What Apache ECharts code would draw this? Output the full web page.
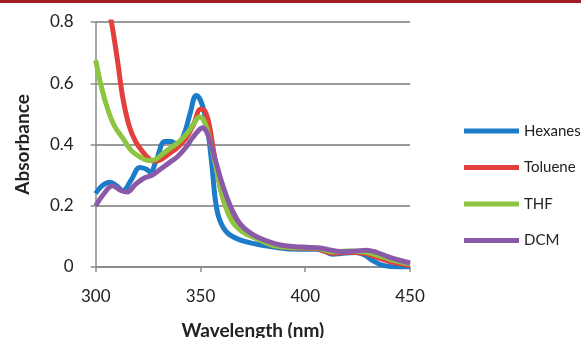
<!DOCTYPE html>
<html>
<head>
<meta charset="utf-8">
<script src="https://cdn.jsdelivr.net/npm/echarts@6/dist/echarts.min.js"></script>
<style>
html,body{margin:0;padding:0;background:#fff;}
#c{width:581px;height:338px;}
</style>
</head>
<body>
<div id="c"></div>
<script>
const seriesNames = ['Hexanes', 'Toluene', 'THF', 'DCM'];
const xTicks = [300, 350, 400, 450];
const yTicks = [0, 0.2, 0.4, 0.6, 0.8];

const hexWl  = [300,303,306.8,310,313,317,321,324,326,329,333,336,339,342,345,348,350,352,354,355.5,357.5,360,364,372,386,398,405,409,413,418,424,428,432,436,440,445,450];
const hexAbs = [0.24,0.265,0.277,0.265,0.25,0.285,0.325,0.32,0.31,0.35,0.41,0.41,0.40,0.43,0.50,0.56,0.545,0.50,0.42,0.33,0.20,0.14,0.105,0.082,0.064,0.058,0.058,0.052,0.042,0.045,0.047,0.04,0.022,0.008,0.002,0,0];

const tolWl  = [306,308,310.5,313,316,319,322,326,328,331,335,339,343,347,350,352,354,356,358,360.5,365,370,375,386,395,405,413,420,428,435,442,450];
const tolAbs = [0.85,0.78,0.67,0.55,0.46,0.41,0.38,0.35,0.345,0.35,0.37,0.39,0.42,0.47,0.515,0.51,0.47,0.39,0.31,0.23,0.155,0.12,0.10,0.068,0.062,0.06,0.045,0.048,0.045,0.03,0.015,0.005];

const thfWl  = [300,303,306,309,313,317,321,325,328,332,336,340,344,347,349.5,351.5,353.5,356,358.5,361,365,370,376,386,395,405,413,420,428,435,442,450];
const thfAbs = [0.675,0.58,0.51,0.46,0.42,0.38,0.36,0.348,0.35,0.37,0.39,0.41,0.44,0.47,0.49,0.48,0.44,0.37,0.29,0.22,0.15,0.115,0.095,0.068,0.063,0.062,0.05,0.052,0.05,0.037,0.022,0.01];

const dcmWl  = [300,304,308,312,315,319,323,327,331,335,339,343,346,349,351,353,355,357.5,360,362.5,365.5,369,373,378,388,399,407,418,424,429,434,439,445,450];
const dcmAbs = [0.20,0.24,0.265,0.25,0.245,0.27,0.29,0.30,0.32,0.34,0.36,0.39,0.42,0.445,0.455,0.44,0.40,0.34,0.28,0.23,0.18,0.14,0.115,0.095,0.072,0.065,0.062,0.05,0.052,0.055,0.048,0.035,0.022,0.013];

const colors = ['#1b7dc9', '#e2403c', '#8dc540', '#8a5aa8'];
const wls = [hexWl, tolWl, thfWl, dcmWl];
const abss = [hexAbs, tolAbs, thfAbs, dcmAbs];

const font = 'Lato, "Liberation Sans", sans-serif';
const chart = echarts.init(document.getElementById('c'), null, {renderer: 'canvas'});
chart.setOption({
  animation: false,
  backgroundColor: '#ffffff',
  color: colors,
  graphic: [{
    type: 'rect', left: 0, top: 0, z: 100,
    shape: {width: 581, height: 3},
    style: {fill: '#a31d24'}
  }],
  grid: {left: 95.7, right: 171, top: 22, bottom: 71, containLabel: false, outerBoundsMode: 'none'},
  legend: {
    orient: 'vertical',
    left: 464, top: 123, padding: 0,
    itemWidth: 55, itemHeight: 5,
    itemGap: 20.5,
    icon: 'rect',
    textStyle: {fontFamily: font, fontSize: 15, color: '#222', lineHeight: 16},
    data: seriesNames
  },
  xAxis: {
    type: 'value', min: xTicks[0], max: xTicks[xTicks.length-1], interval: 50,
    name: 'Wavelength (nm)', nameLocation: 'middle', nameGap: 54,
    nameTextStyle: {fontFamily: font, fontSize: 19, fontWeight: 'bold', color: '#222'},
    axisLine: {lineStyle: {color: '#8a8a8a', width: 1.5}},
    axisTick: {show: true, length: 5, lineStyle: {color: '#8a8a8a', width: 1.5}},
    axisLabel: {fontFamily: font, fontSize: 17, color: '#222', margin: 21},
    splitLine: {show: false}
  },
  yAxis: {
    type: 'value', min: yTicks[0], max: yTicks[yTicks.length-1], interval: 0.2,
    name: 'Absorbance', nameLocation: 'middle', nameGap: 63, nameRotate: 90,
    nameTextStyle: {fontFamily: font, fontSize: 19, fontWeight: 'bold', color: '#222'},
    axisLine: {show: true, lineStyle: {color: '#8a8a8a', width: 1.5}},
    axisTick: {show: true, length: 5, lineStyle: {color: '#8a8a8a', width: 1.5}},
    axisLabel: {fontFamily: font, fontSize: 17, color: '#222', margin: 22,
      formatter: v => (v === 0 ? '0' : v.toFixed(1))},
    splitLine: {show: true, lineStyle: {color: '#9a9a9a', width: 2}}
  },
  series: seriesNames.map((n, i) => ({
    name: n, type: 'line', smooth: 0.4, symbol: 'none', clip: true,
    lineStyle: {width: 5, color: colors[i]},
    itemStyle: {color: colors[i]},
    data: wls[i].map((w, j) => [w, abss[i][j]])
  }))
});
</script>
</body>
</html>
